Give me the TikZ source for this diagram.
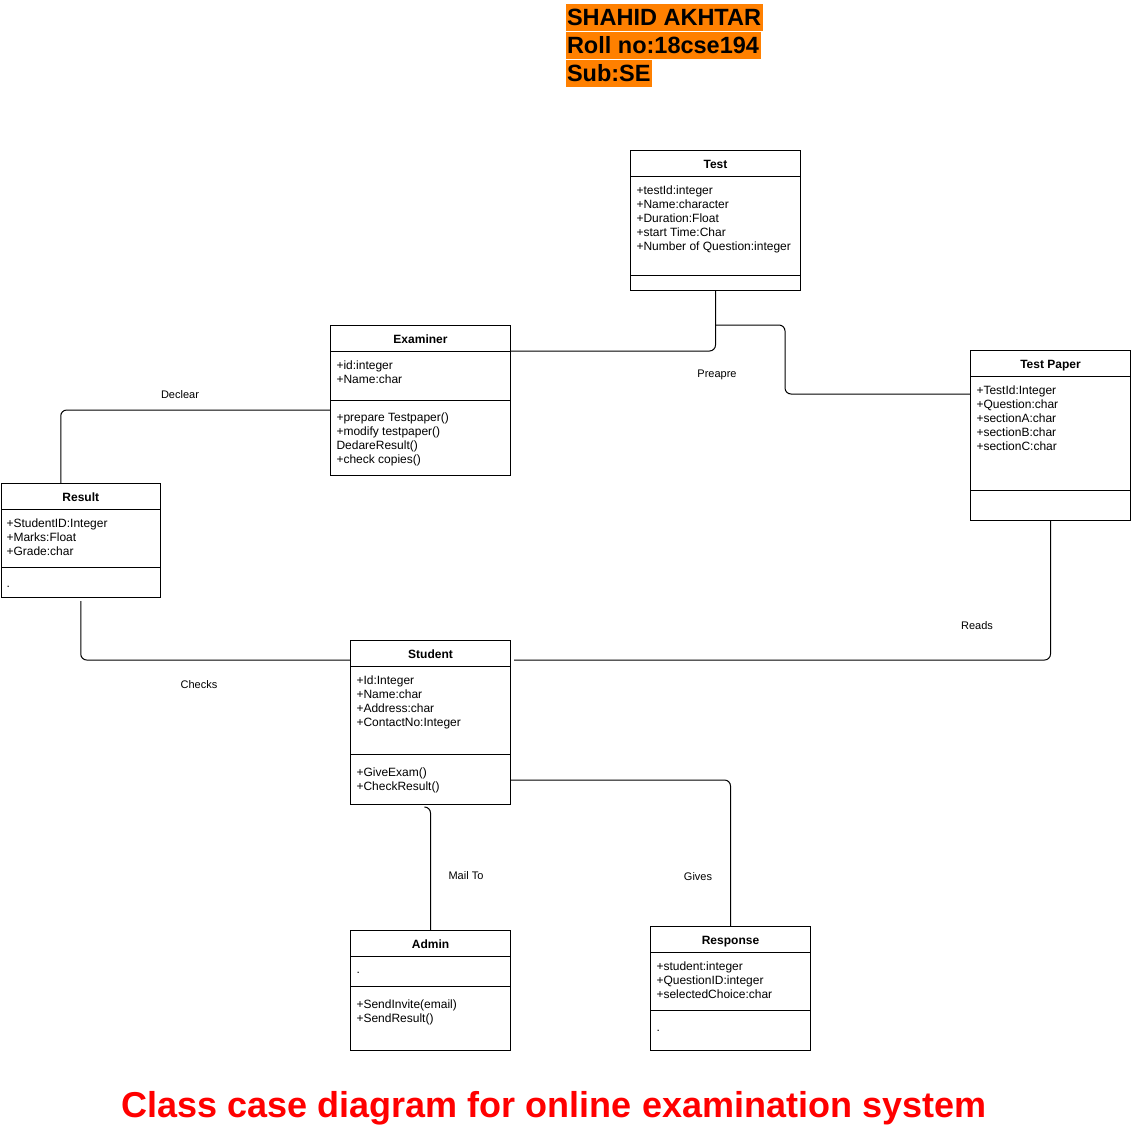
\documentclass[tikz,border=0pt]{standalone}
\usepackage{fontspec}
\setmainfont{Liberation Sans}
\usepackage{tikz}

\begin{document}
\begin{tikzpicture}[x=1pt,y=-1pt,line width=1pt,
  head/.style={draw,anchor=north west,minimum height=26pt,inner sep=0pt,text height=10.6pt,text depth=0pt,font=\bfseries\fontsize{12}{14}\selectfont},
  part/.style={draw,anchor=north west,inner sep=0pt},
  members/.style={anchor=north west,inner sep=0pt,align=left,font=\fontsize{12}{14}\selectfont},
  blank/.style={anchor=base west,inner sep=0pt,font=\fontsize{12}{14}\selectfont},
  link/.style={rounded corners=6pt},
  linklabel/.style={inner sep=0pt,font=\fontsize{11}{13}\selectfont},
  banner/.style={fill=orange,anchor=north west,minimum height=27pt,inner xsep=1.5pt,inner ysep=0pt,text height=17pt,text depth=0pt,font=\bfseries\fontsize{23.5}{28}\selectfont}]
	\useasboundingbox (0,0) rectangle (1131,1125);
	\node[banner] (author) at (565,3) {SHAHID AKHTAR};
	\node[banner] (roll) at (565,31) {Roll no:18cse194};
	\node[banner] (subject) at (565,59) {Sub:SE};

	\node[head,minimum width=170pt] (test) at (630,150) {Test};
	\node[part,minimum width=170pt,minimum height=99pt] (testA) at (630,176) {};
	\node[part,minimum width=170pt,minimum height=15pt] (testM) at (630,275) {};
	\node[members] (testAt) at ([xshift=6pt,yshift=-9.6pt]testA.north west) {+testId:integer\\+Name:character\\+Duration:Float\\+start Time:Char\\+Number of Question:integer};

	\node[head,minimum width=180pt] (examiner) at (330,325) {Examiner};
	\node[part,minimum width=180pt,minimum height=49pt] (examinerA) at (330,351) {};
	\node[part,minimum width=180pt,minimum height=75pt] (examinerM) at (330,400) {};
	\node[members] (examinerAt) at ([xshift=6pt,yshift=-9.6pt]examinerA.north west) {+id:integer\\+Name:char};
	\node[members] (examinerMe) at ([xshift=6pt,yshift=-12.6pt]examinerM.north west) {+prepare Testpaper()\\+modify testpaper()\\DedareResult()\\+check copies()};

	\node[head,minimum width=160pt] (paper) at (970,350) {Test Paper};
	\node[part,minimum width=160pt,minimum height=114pt] (paperA) at (970,376) {};
	\node[part,minimum width=160pt,minimum height=30pt] (paperM) at (970,490) {};
	\node[members] (paperAt) at ([xshift=6pt,yshift=-9.6pt]paperA.north west) {+TestId:Integer\\+Question:char\\+sectionA:char\\+sectionB:char\\+sectionC:char};

	\node[head,minimum width=159.5pt] (result) at (0.5,483) {Result};
	\node[part,minimum width=159.5pt,minimum height=58pt] (resultA) at (0.5,509) {};
	\node[part,minimum width=159.5pt,minimum height=30pt] (resultM) at (0.5,567) {};
	\node[members] (resultAt) at ([xshift=5.5pt,yshift=-9.6pt]resultA.north west) {+StudentID:Integer\\+Marks:Float\\+Grade:char};
	\node[blank] (resultMe) at ([xshift=5.5pt,yshift=-20.5pt]resultM.north west) {.};

	\node[head,minimum width=160pt] (student) at (350,640) {Student};
	\node[part,minimum width=160pt,minimum height=88pt] (studentA) at (350,666) {};
	\node[part,minimum width=160pt,minimum height=50pt] (studentM) at (350,754) {};
	\node[members] (studentAt) at ([xshift=6pt,yshift=-9.6pt]studentA.north west) {+Id:Integer\\+Name:char\\+Address:char\\+ContactNo:Integer};
	\node[members] (studentMe) at ([xshift=6pt,yshift=-13.6pt]studentM.north west) {+GiveExam()\\+CheckResult()};

	\node[head,minimum width=160pt] (admin) at (350,930) {Admin};
	\node[part,minimum width=160pt,minimum height=30pt] (adminA) at (350,956) {};
	\node[part,minimum width=160pt,minimum height=64pt] (adminM) at (350,986) {};
	\node[blank] (adminAt) at ([xshift=6pt,yshift=-17pt]adminA.north west) {.};
	\node[members] (adminMe) at ([xshift=6pt,yshift=-13.6pt]adminM.north west) {+SendInvite(email)\\+SendResult()};

	\node[head,minimum width=160pt] (response) at (650,926) {Response};
	\node[part,minimum width=160pt,minimum height=58pt] (responseA) at (650,952) {};
	\node[part,minimum width=160pt,minimum height=40pt] (responseM) at (650,1010) {};
	\node[members] (responseAt) at ([xshift=6pt,yshift=-9.6pt]responseA.north west) {+student:integer\\+QuestionID:integer\\+selectedChoice:char};
	\node[blank] (responseMe) at ([xshift=6pt,yshift=-21pt]responseM.north west) {.};

	\coordinate (prepjoin) at (715,325);
	\draw[link] (examinerA.north east) -| (testM.south);
	\draw[link] (prepjoin) -| (785,394) -- ([yshift=-18pt]paperA.north west);
	\draw[link] ([yshift=-10pt]examinerM.north west) -| ([xshift=-20pt]result.north);
	\draw[link] ([yshift=-3pt]resultM.south) |- ([yshift=-20pt]student.north west);
	\draw[link] ([xshift=3pt,yshift=-20pt]student.north east) -| (paperM.south);
	\draw[link] ([yshift=-26pt]studentM.north east) -| (response.north);
	\draw[link] ([xshift=-5pt,yshift=-2pt]studentM.south) -- ++(5,0) -- (admin.north);

	\node[linklabel] (declear) at (180,395) {Declear};
	\node[linklabel] (preapre) at (717,375) {Preapre};
	\node[linklabel] (checks) at (199,685) {Checks};
	\node[linklabel] (reads) at (977,626) {Reads};
	\node[linklabel] (mailto) at (466,876) {Mail To};
	\node[linklabel] (gives) at (698,877) {Gives};

	\node[anchor=base,inner sep=0pt,text=red,font=\bfseries\fontsize{36}{40}\selectfont] (caption) at (554,1117) {Class case diagram for online examination system};
\end{tikzpicture}
\end{document}
